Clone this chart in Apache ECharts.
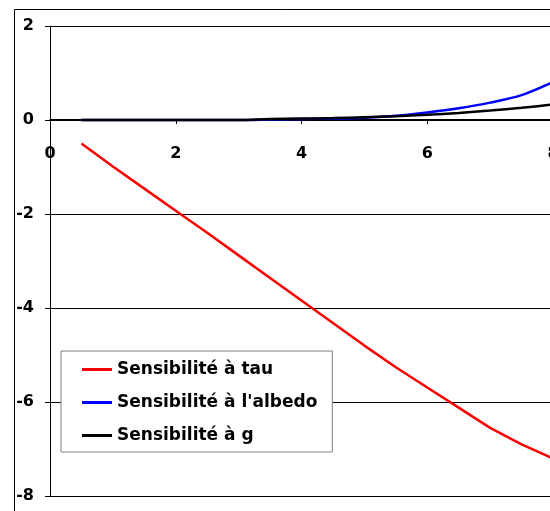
<!DOCTYPE html>
<html>
<head>
<meta charset="utf-8">
<script src="https://cdn.jsdelivr.net/npm/echarts@6/dist/echarts.min.js"></script>
<style>html,body{margin:0;padding:0;background:#fff;}#c{width:550px;height:511px;}</style>
</head>
<body>
<div id="c"></div>
<script>
const xs = [0.5, 1, 1.5, 2, 2.5, 3, 3.5, 4, 4.5, 5, 5.5, 6, 6.5, 7, 7.5, 8];
const tau = [-0.5, -0.99, -1.46, -1.93, -2.40, -2.88, -3.36, -3.84, -4.32, -4.80, -5.26, -5.69, -6.12, -6.55, -6.90, -7.20];
const albedo = [0, 0, 0, 0, 0, 0, 0.01, 0.02, 0.03, 0.05, 0.09, 0.16, 0.25, 0.37, 0.53, 0.81];
const gval = [0, 0, 0, 0, 0, 0, 0.02, 0.03, 0.04, 0.06, 0.08, 0.11, 0.15, 0.20, 0.26, 0.33];
const seriesNames = ['Sensibilité à tau', "Sensibilité à l'albedo", 'Sensibilité à g'];
const colors = ['#ff0000', '#0000ff', '#000000'];
const xTicks = {min: 0, max: 8, interval: 2};
const yTicks = {min: -8, max: 2, interval: 2};

const font = '"DejaVu Sans", "Liberation Sans", Arial, sans-serif';
const pair = (v) => xs.map((x, i) => [x, v[i]]);
const chart = echarts.init(document.getElementById('c'), null, {renderer: 'canvas'});
chart.setOption({
  animation: false,
  backgroundColor: '#fff',
  graphic: [{
    type: 'rect', left: 12, top: 7, z: -10, silent: true,
    shape: {x: 0.5, y: 0.5, width: 700, height: 700},
    style: {fill: 'none', stroke: '#000', lineWidth: 1}
  }],
  grid: {left: 50, top: 26, right: -3, bottom: 15, containLabel: false, outerBoundsMode: 'none'},
  xAxis: {
    type: 'value', min: xTicks.min, max: xTicks.max, interval: xTicks.interval,
    position: 'bottom', offset: -377,
    axisLine: {show: true, onZero: false, lineStyle: {color: '#000', width: 1}},
    axisTick: {show: true, inside: false, length: 5, lineStyle: {color: '#000'}},
    axisLabel: {margin: 27, color: '#000', fontFamily: font, fontWeight: 'bold', fontSize: 16, showMaxLabel: true, showMinLabel: true, hideOverlap: false},
    splitLine: {show: false}
  },
  yAxis: {
    type: 'value', min: yTicks.min, max: yTicks.max, interval: yTicks.interval,
    axisLine: {show: true, onZero: false, lineStyle: {color: '#000', width: 1}},
    axisTick: {show: true, inside: false, length: 5, lineStyle: {color: '#000'}},
    axisLabel: {margin: 16, color: '#000', fontFamily: font, fontWeight: 'bold', fontSize: 16},
    splitLine: {show: true, lineStyle: {color: '#000', width: 1}}
  },
  legend: {
    orient: 'vertical', left: 61, top: 351,
    padding: [10, 15, 8, 21],
    itemGap: 16, itemWidth: 30, itemHeight: 3, icon: 'rect',
    backgroundColor: '#fff', borderColor: '#808080', borderWidth: 1,
    textStyle: {color: '#000', fontFamily: font, fontWeight: 'bold', fontSize: 17, lineHeight: 17},
    data: seriesNames
  },
  series: [
    {name: seriesNames[0], type: 'line', data: pair(tau), symbol: 'none', lineStyle: {color: colors[0], width: 2.5}, itemStyle: {color: colors[0]}, z: 3},
    {name: seriesNames[1], type: 'line', data: pair(albedo), symbol: 'none', smooth: 0.3, lineStyle: {color: colors[1], width: 2.5}, itemStyle: {color: colors[1]}, z: 3},
    {name: seriesNames[2], type: 'line', data: pair(gval), symbol: 'none', smooth: 0.3, lineStyle: {color: colors[2], width: 2.5}, itemStyle: {color: colors[2]}, z: 4}
  ]
});
</script>
</body>
</html>
